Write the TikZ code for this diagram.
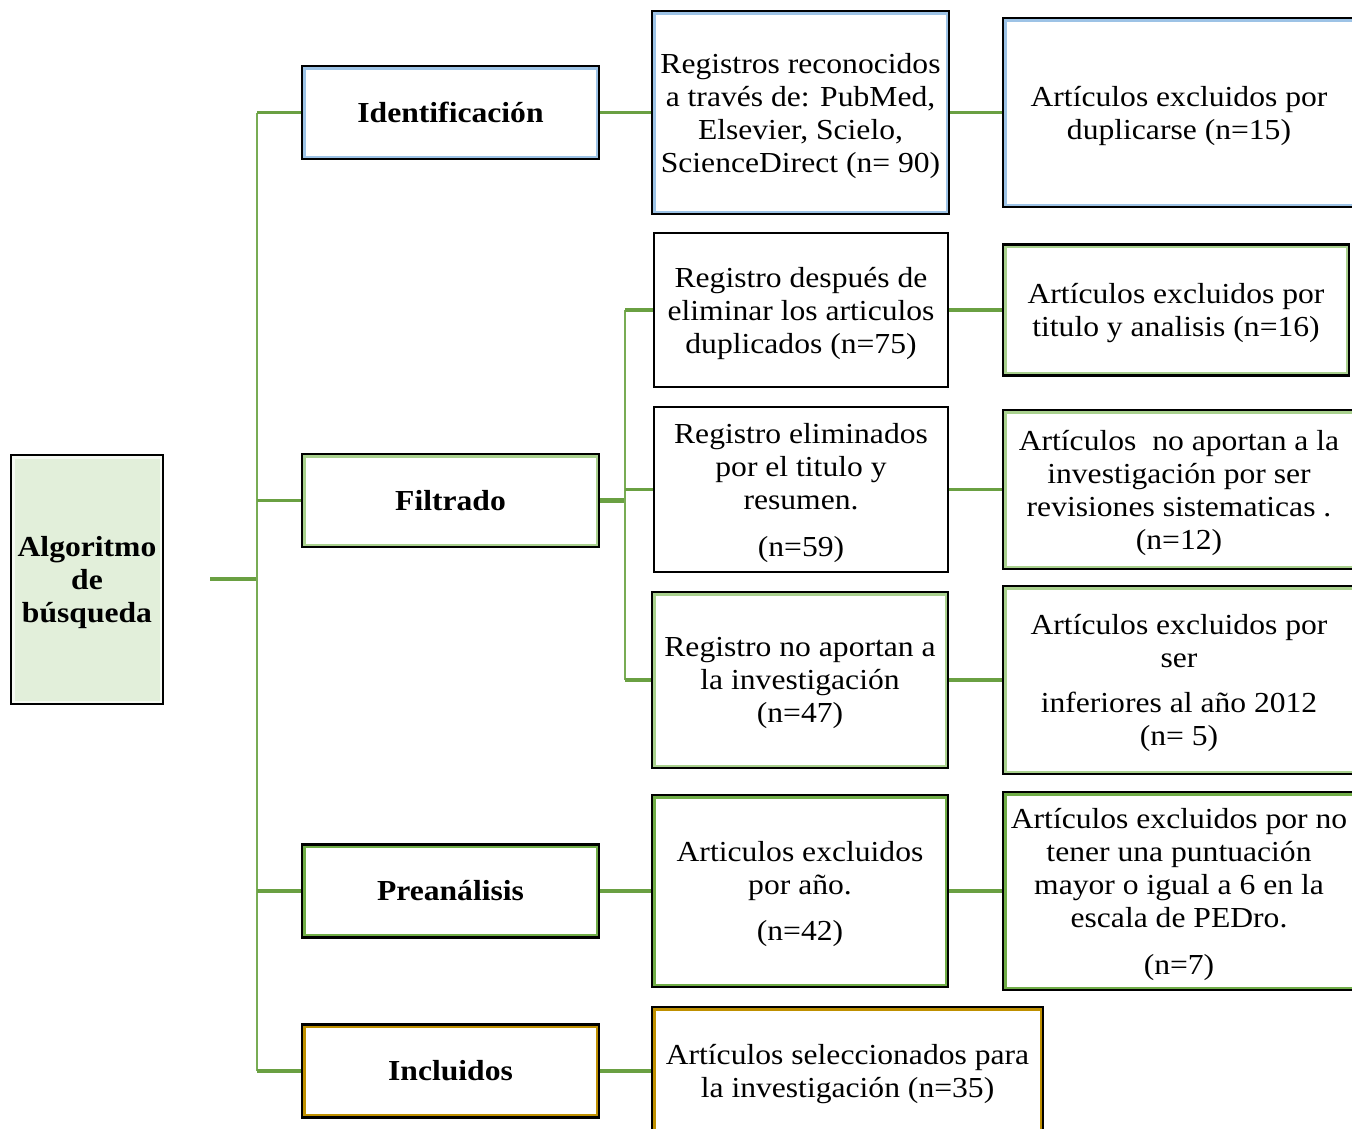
\documentclass[tikz,border=0pt]{standalone}
\usepackage{fontspec}
\setmainfont{Liberation Serif}[FakeStretch=1.09]
\definecolor{linkgreen}{RGB}{106,160,66}
\definecolor{trunkgreen}{RGB}{120,172,84}
\definecolor{rootfill}{RGB}{226,239,218}
\definecolor{rimblue}{RGB}{157,195,230}
\definecolor{rimlime}{RGB}{169,209,142}
\definecolor{rimgreen}{RGB}{112,173,71}
\definecolor{rimgold}{RGB}{191,144,0}

\begin{document}
\begin{tikzpicture}[x=1pt, y=-1pt,
  font=\fontsize{29}{33}\selectfont,
  box/.style={draw=black, line width=2.4pt, fill=white, inner sep=0pt, align=center},
  textbox/.style={box, text depth=0pt},
  rim/.style={path picture={\draw[#1, line width=7pt] (path picture bounding box.north west) rectangle (path picture bounding box.south east);}},
  stage/.style={box, rim=#1, minimum width=297, minimum height=93, font=\fontsize{29}{33}\selectfont\bfseries},
  link/.style={draw=linkgreen, line width=3.5pt},
  trunk/.style={draw=trunkgreen, line width=2.2pt}
]
\useasboundingbox (0,0) rectangle (1352,1128);
\clip (0,0) rectangle (1352,1128);

% Root
\node[textbox, fill=rootfill, rim=rootfill!35!white, minimum width=152, minimum height=249,
  font=\fontsize{29}{33}\selectfont\bfseries] (algo) at (87,579.5) {Algoritmo\\de\\búsqueda};

% Stages
\node[stage=rimblue] (ident) at (450.5,112.5) {Identificación};
\node[stage=rimlime] (filt) at (450.5,500.5) {Filtrado};
\node[stage=rimgreen] (prean) at (450.5,891) {Preanálisis};
\node[stage=rimgold] (incl) at (450.5,1071) {Incluidos};

% Records
\node[textbox, rim=rimblue, minimum width=297, minimum height=203] (rec) at (800.5,112.5)
  {Registros reconocidos\\a través de: PubMed,\\Elsevier, Scielo,\\ScienceDirect (n= 90)};
\node[textbox, minimum width=294, minimum height=154] (fdup) at (801,310)
  {Registro después de\\eliminar los articulos\\duplicados (n=75)};
\node[textbox, minimum width=294, minimum height=165] (ftit) at (801,489.5)
  {Registro eliminados\\por el titulo y\\resumen.\\[14pt](n=59)};
\node[textbox, rim=rimlime, minimum width=296, minimum height=176] (fyear) at (800,680)
  {Registro no aportan a\\la investigación\\(n=47)};
\node[textbox, rim=rimgreen, minimum width=296, minimum height=192] (pyear) at (800,891)
  {Articulos excluidos\\por año.\\[13pt](n=42)};
\node[textbox, rim=rimgold, minimum width=391, minimum height=128] (sel) at (847.5,1071)
  {Artículos seleccionados para\\la investigación (n=35)};

% Exclusions
\node[textbox, rim=rimblue, minimum width=352, minimum height=189] (exdup) at (1179,112.5)
  {Artículos excluidos por\\duplicarse (n=15)};
\node[textbox, rim=rimlime, minimum width=346, minimum height=131] (extit) at (1176,310)
  {Artículos excluidos por\\titulo y analisis (n=16)};
\node[textbox, rim=rimlime, minimum width=352, minimum height=159] (exrev) at (1179,489.5)
  {Artículos\ \ no aportan a la\\investigación por ser\\revisiones sistematicas .\\(n=12)};
\node[textbox, rim=rimlime, minimum width=352, minimum height=188] (exold) at (1179,680)
  {Artículos excluidos por\\ser\\[12pt]inferiores al año 2012\\(n= 5)};
\node[textbox, rim=rimgreen, minimum width=352, minimum height=198] (expedro) at (1179,891)
  {Artículos excluidos por no\\tener una puntuación\\mayor o igual a 6 en la\\escala de PEDro.\\[14pt](n=7)};

% Main trunk
\coordinate (rootout) at (210,579);
\coordinate (stem) at (257,579);
\draw[link] (rootout) -- (stem);
\draw[trunk] (ident.west -| stem) -- (incl.west -| stem);
\foreach \n in {ident,filt,prean,incl}
  \draw[link] (\n.west -| stem) -- (\n.west);

% Filtrado bus
\coordinate (fbus) at (625,500);
\draw[link, line width=4.5pt] (filt.east) -- (filt.east -| fbus);
\draw[trunk] (fdup.west -| fbus) -- (fyear.west -| fbus);
\foreach \n in {fdup,ftit,fyear}
  \draw[link] (\n.west -| fbus) -- (\n.west);

% Row links
\draw[link] (ident.east) -- (rec.west);
\draw[link] (rec.east) -- (exdup.west);
\draw[link] (fdup.east) -- (extit.west);
\draw[link] (ftit.east) -- (exrev.west);
\draw[link] (fyear.east) -- (exold.west);
\draw[link] (prean.east) -- (pyear.west);
\draw[link] (pyear.east) -- (expedro.west);
\draw[link] (incl.east) -- (sel.west);

\end{tikzpicture}
\end{document}
